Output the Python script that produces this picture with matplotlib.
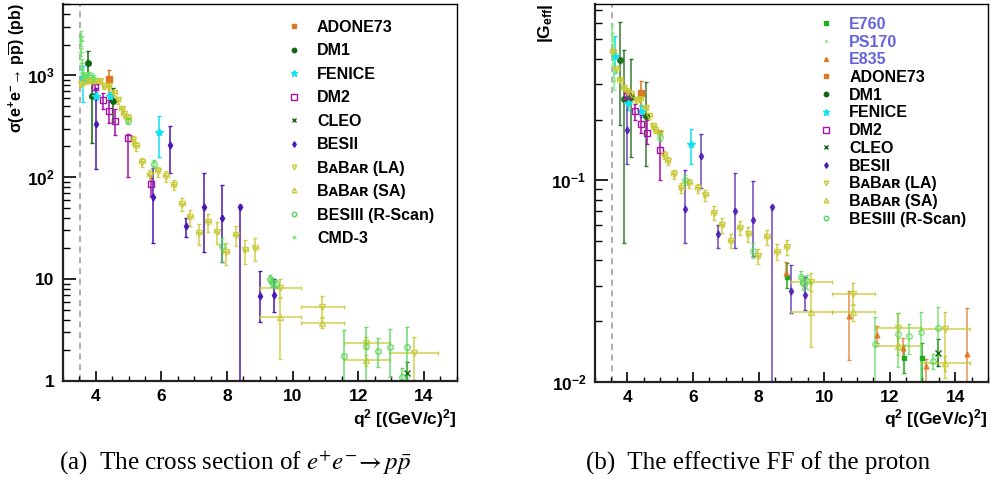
import numpy as np
import matplotlib
matplotlib.use("Agg")
import matplotlib.pyplot as plt
from matplotlib.lines import Line2D
from matplotlib.ticker import MultipleLocator, LogLocator, NullFormatter, FixedLocator, FixedFormatter

plt.rcParams['font.family'] = ['Liberation Sans', 'DejaVu Sans']
plt.rcParams['font.weight'] = 'normal'
plt.rcParams['mathtext.fontset'] = 'custom'
plt.rcParams['mathtext.rm'] = 'Liberation Sans:bold'
plt.rcParams['mathtext.bf'] = 'Liberation Sans:bold'
plt.rcParams['mathtext.it'] = 'Liberation Sans:italic:bold'
plt.rcParams['mathtext.sf'] = 'Liberation Sans:bold'

# ---------------- left panel: cross section (pb) ----------------
adone_q2_L = [4.40]
adone_sig = [910]
adone_lo_L = [250]
adone_hi_L = [220]

dm1_q2_L = [3.77, 3.87, 4.53]
dm1_sig = [1330, 625, 557]
dm1_lo_L = [330, 407, 210]
dm1_hi_L = [400, 225, 200]

fenice_q2_L = [3.61, 4.00, 4.43, 5.94]
fenice_sig = [940, 625, 620, 279]
fenice_lo_L = [400, 60, 70, 120]
fenice_hi_L = [290, 60, 70, 115]

dm2_q2_L = [3.99, 4.22, 4.40, 4.58, 4.99, 5.68]
dm2_sig = [773, 566, 445, 355, 244, 86.5]
dm2_lo_L = [50, 104, 103, 93, 143, 21.5]
dm2_hi_L = [50, 109, 125, 107, 20, 15.5]

cleo_q2_L = [13.48]
cleo_sig = [1.19]
cleo_lo_L = [0.3]
cleo_hi_L = [0.35]

besii_q2 = [4.00, 5.75, 6.25, 6.76, 7.29, 7.84, 8.41, 9.00, 9.42]
besii_sig = [329, 64, 205, 32.9, 50.6, 39.8, 51, 6.9, 6.95]
besii_lo_L = [209, 41.3, 95, 6.9, 32, 25.2, 50.5, 3.07, 2.25]
besii_hi_L = [427, 60, 110, 7.1, 60.4, 44.7, 2, 5.0, 3.11]

babar_q2 = [3.56, 3.66, 3.77, 3.88, 3.99, 4.12, 4.26, 4.39, 4.56, 4.67, 4.79, 4.85,
            4.98, 5.12, 5.23, 5.41, 5.64, 5.89, 6.14, 6.38, 6.63, 6.87, 7.15, 7.42,
            7.69, 7.97, 8.26, 8.56, 8.86]
babar_sig = [827, 877, 880, 870, 880, 877, 783, 790, 675, 566, 462, 413,
             383, 234, 201, 140, 106, 114, 102, 84, 54.6, 40.2, 28.1, 36.3,
             29.2, 18.3, 27, 19.1, 20.2]
babar_sig_err = [60, 50, 50, 50, 50, 50, 50, 50, 45, 40, 35, 35,
                 30, 22, 20, 15, 12, 13, 12, 10, 8.5, 7, 6.5, 7.5,
                 7, 4.5, 6, 5, 5]
babar_q2_err = [0.08] * 29

bin_q2 = [9.61, 10.89, 12.25, 13.69]
bin_lo_edge = [0.61, 0.65, 0.69, 0.73]
bin_hi_edge = [0.63, 0.67, 0.71, 0.75]
babar_la_bin_sig = [8.14, 5.38, 2.38, 1.90]
babar_la_bin_lo = [1.5, 1.1, 0.3, 0.88]
babar_la_bin_hi = [1.9, 1.5, 0.3, 0.83]
babar_sa_bin_sig = [4.23, 3.74, 1.61]
babar_sa_bin_lo = [2.6, 0.4, 0.2]
babar_sa_bin_hi = [2.3, 0.4, 0.2]

besiii_q2 = [4.98, 5.76, 7.84, 9.30, 9.36, 9.49, 11.56, 12.25, 12.60, 12.96, 13.32, 13.48]
besiii_sig = [355, 135, 21.2, 10.0, 9.3, 8.94, 1.77, 2.21, 1.98, 2.17, 1.10, 2.17]
besiii_lo_L = [25, 12, 6.6, 0.9, 0.9, 0.8, 1.3, 1.2, 0.6, 1.07, 0.3, 1.2]
besiii_hi_L = [25, 12, 4.3, 0.9, 0.9, 0.8, 1.43, 1.16, 0.68, 1.07, 0.25, 1.2]

cmd3_q2 = [3.552, 3.556, 3.562, 3.570, 3.585, 3.610, 3.650, 3.720, 3.800, 3.880, 3.960]
cmd3_sig = [2450, 2150, 1700, 1320, 1050, 980, 950, 1000, 1000, 960, 930]
cmd3_err = [250, 200, 170, 130, 110, 90, 80, 80, 80, 80, 80]

# ---------------- right panel: |G_eff| ----------------
e760_q2 = [8.88, 12.43, 12.98]
e760_G = [0.0329, 0.0131, 0.0131]
e760_lo = [0.0036, 0.0021, 0.0035]
e760_hi = [0.0060, 0.0021, 0.0024]

ps170_q2 = [3.535, 3.545, 3.56, 3.575, 3.59]
ps170_G = [0.54, 0.47, 0.40, 0.35, 0.31]
ps170_err = [0.05, 0.04, 0.035, 0.03, 0.03]

e835_q2 = [8.84, 10.77, 11.61, 12.42, 13.10, 14.37]
e835_G = [0.0346, 0.0212, 0.0171, 0.0147, 0.0119, 0.0138]
e835_lo = [0.0013, 0.0084, 0.0016, 0.0016, 0.0030, 0.0045]
e835_hi = [0.0046, 0.0070, 0.0017, 0.0018, 0.0011, 0.0094]

adone_q2_R = [4.40]
adone_G = [0.272]
adone_lo_R = [0.039]
adone_hi_R = [0.040]

dm1_q2_R = [3.77, 3.90, 4.12, 4.56]
dm1_G = [0.395, 0.252, 0.26, 0.208]
dm1_lo_R = [0.208, 0.203, 0.13, 0.09]
dm1_hi_R = [0.215, 0.193, 0.14, 0.10]

fenice_q2_R = [3.61, 4.01, 4.40, 5.95]
fenice_G = [0.414, 0.243, 0.220, 0.151]
fenice_lo_R = [0.072, 0.02, 0.015, 0.030]
fenice_hi_R = [0.107, 0.02, 0.015, 0.029]

dm2_q2_R = [3.99, 4.22, 4.40, 4.60, 5.00]
dm2_G = [0.262, 0.220, 0.191, 0.171, 0.141]
dm2_lo_R = [0.015, 0.02, 0.02, 0.019, 0.041]
dm2_hi_R = [0.015, 0.02, 0.02, 0.029, 0.034]

cleo_q2_R = [13.48]
cleo_G = [0.0139]
cleo_lo_R = [0.002]
cleo_hi_R = [0.0024]

besii_G = [0.177, 0.072, 0.1315, 0.0543, 0.0701, 0.0632, 0.0735, 0.0281, 0.027]
besii_lo_R = [0.056, 0.023, 0.040, 0.0084, 0.024, 0.021, 0.0734, 0.0062, 0.0042]
besii_hi_R = [0.064, 0.041, 0.0375, 0.0056, 0.039, 0.036, 0.001, 0.010, 0.0061]

babar_G = [0.434, 0.358, 0.313, 0.288, 0.277, 0.269, 0.249, 0.252, 0.229, 0.208, 0.186, 0.177,
           0.172, 0.134, 0.125, 0.107, 0.0915, 0.097, 0.091, 0.084, 0.069, 0.060, 0.050, 0.058,
           0.054, 0.042, 0.052, 0.044, 0.0465]
babar_G_err = [0.015, 0.012, 0.010, 0.009, 0.008, 0.008, 0.008, 0.008, 0.007, 0.007, 0.006, 0.006,
               0.006, 0.006, 0.006, 0.005, 0.005, 0.005, 0.005, 0.005, 0.0055, 0.005, 0.004, 0.0045,
               0.0045, 0.0035, 0.0045, 0.004, 0.004]
babar_la_bin_G = [0.0311, 0.0272, 0.01845, 0.01824]
babar_la_bin_G_lo = [0.0030, 0.0030, 0.0030, 0.0078]
babar_la_bin_G_hi = [0.0035, 0.0037, 0.0035, 0.0039]
babar_sa_bin_G = [0.0223, 0.0221, 0.01507, 0.01236]
babar_sa_bin_G_lo = [0.0074, 0.0020, 0.0015, 0.0010]
babar_sa_bin_G_hi = [0.0086, 0.0020, 0.0015, 0.0010]

besiii_G = [0.164, 0.1006, 0.0447, 0.0329, 0.0309, 0.0315, 0.0154, 0.01726, 0.0168, 0.0177, 0.0126, 0.01845]
besiii_lo_R = [0.008, 0.006, 0.0036, 0.0025, 0.0025, 0.0025, 0.0075, 0.0054, 0.0030, 0.0080, 0.0011, 0.0052]
besiii_hi_R = [0.008, 0.006, 0.0040, 0.0025, 0.0025, 0.0025, 0.0056, 0.0046, 0.0025, 0.0044, 0.0011, 0.0050]

legend_L = ['ADONE73', 'DM1', 'FENICE', 'DM2', 'CLEO', 'BESII',
            'BᴀBᴀʀ (LA)', 'BᴀBᴀʀ (SA)', 'BESIII (R-Scan)', 'CMD-3']
legend_R = ['E760', 'PS170', 'E835', 'ADONE73', 'DM1', 'FENICE', 'DM2', 'CLEO', 'BESII',
            'BᴀBᴀʀ (LA)', 'BᴀBᴀʀ (SA)', 'BESIII (R-Scan)']

# styles
C_ORANGE = '#dd7722'
C_DKGREEN = '#116611'
C_CYAN = '#11e0ee'
C_MAGENTA = '#aa11aa'
C_INDIGO = '#4a18b4'
C_YELLOW = '#c8c832'
C_LTGREEN = '#55d855'
C_CMD = '#66e066'
C_E760 = '#22aa22'
C_PS170 = '#88ee88'

style = {
    'E760': dict(marker='s', color=C_E760, ms=3.5, mfc=C_E760),
    'PS170': dict(marker='.', color=C_PS170, ms=3, mfc=C_PS170),
    'E835': dict(marker='^', color=C_ORANGE, ms=3.5, mfc=C_ORANGE),
    'ADONE73': dict(marker='s', color=C_ORANGE, ms=4, mfc=C_ORANGE),
    'DM1': dict(marker='o', color=C_DKGREEN, ms=4, mfc=C_DKGREEN),
    'FENICE': dict(marker='*', color=C_CYAN, ms=6, mfc=C_CYAN),
    'DM2': dict(marker='s', color=C_MAGENTA, ms=5, mfc='none'),
    'CLEO': dict(marker='x', color=C_DKGREEN, ms=4, mfc=C_DKGREEN),
    'BESII': dict(marker='d', color=C_INDIGO, ms=3.5, mfc=C_INDIGO),
    'LA': dict(marker='v', color=C_YELLOW, ms=4, mfc='none'),
    'SA': dict(marker='^', color=C_YELLOW, ms=4, mfc='none'),
    'BESIII': dict(marker='o', color=C_LTGREEN, ms=4, mfc='none'),
    'CMD3': dict(marker='+', color=C_CMD, ms=4, mfc=C_CMD),
}
legend_key_L = ['ADONE73', 'DM1', 'FENICE', 'DM2', 'CLEO', 'BESII', 'LA', 'SA', 'BESIII', 'CMD3']
legend_key_R = ['E760', 'PS170', 'E835', 'ADONE73', 'DM1', 'FENICE', 'DM2', 'CLEO', 'BESII', 'LA', 'SA', 'BESIII']


def eb(ax, key, x, y, lo, hi, xlo=None, xhi=None, alpha=1.0):
    st = style[key]
    xerr = None if xlo is None else [xlo, xhi]
    ax.errorbar(x, y, yerr=[lo, hi], xerr=xerr, fmt=st['marker'], color=st['color'],
                ms=st['ms'], mfc=st['mfc'], mec=st['color'], mew=1.0,
                elinewidth=1.1, capsize=1.6, capthick=1.0, alpha=alpha, lw=0)


fig = plt.figure(figsize=(9.93, 4.84), dpi=100)
axL = fig.add_axes([0.0634, 0.2128, 0.3965, 0.779])
axR = fig.add_axes([0.5989, 0.2114, 0.3961, 0.7804])

# left panel data
eb(axL, 'ADONE73', adone_q2_L, adone_sig, adone_lo_L, adone_hi_L)
eb(axL, 'DM1', dm1_q2_L, dm1_sig, dm1_lo_L, dm1_hi_L)
eb(axL, 'FENICE', fenice_q2_L, fenice_sig, fenice_lo_L, fenice_hi_L)
eb(axL, 'DM2', dm2_q2_L, dm2_sig, dm2_lo_L, dm2_hi_L)
eb(axL, 'CLEO', cleo_q2_L, cleo_sig, cleo_lo_L, cleo_hi_L)
eb(axL, 'BESII', besii_q2, besii_sig, besii_lo_L, besii_hi_L)
eb(axL, 'LA', babar_q2, babar_sig, babar_sig_err, babar_sig_err, babar_q2_err, babar_q2_err, alpha=0.85)
eb(axL, 'LA', bin_q2, babar_la_bin_sig, babar_la_bin_lo, babar_la_bin_hi, bin_lo_edge, bin_hi_edge, alpha=0.85)
eb(axL, 'SA', bin_q2[:3], babar_sa_bin_sig, babar_sa_bin_lo, babar_sa_bin_hi, bin_lo_edge[:3], bin_hi_edge[:3], alpha=0.85)
eb(axL, 'BESIII', besiii_q2, besiii_sig, besiii_lo_L, besiii_hi_L, alpha=0.85)
eb(axL, 'CMD3', cmd3_q2, cmd3_sig, cmd3_err, cmd3_err, alpha=0.8)

# right panel data
eb(axR, 'E760', e760_q2, e760_G, e760_lo, e760_hi)
eb(axR, 'PS170', ps170_q2, ps170_G, ps170_err, ps170_err)
eb(axR, 'E835', e835_q2, e835_G, e835_lo, e835_hi, alpha=0.8)
eb(axR, 'ADONE73', adone_q2_R, adone_G, adone_lo_R, adone_hi_R)
eb(axR, 'DM1', dm1_q2_R, dm1_G, dm1_lo_R, dm1_hi_R, alpha=0.85)
eb(axR, 'FENICE', fenice_q2_R, fenice_G, fenice_lo_R, fenice_hi_R)
eb(axR, 'DM2', dm2_q2_R, dm2_G, dm2_lo_R, dm2_hi_R)
eb(axR, 'CLEO', cleo_q2_R, cleo_G, cleo_lo_R, cleo_hi_R)
eb(axR, 'BESII', besii_q2, besii_G, besii_lo_R, besii_hi_R, alpha=0.8)
eb(axR, 'LA', babar_q2, babar_G, babar_G_err, babar_G_err, babar_q2_err, babar_q2_err, alpha=0.85)
eb(axR, 'LA', bin_q2, babar_la_bin_G, babar_la_bin_G_lo, babar_la_bin_G_hi, bin_lo_edge, bin_hi_edge, alpha=0.85)
eb(axR, 'SA', bin_q2, babar_sa_bin_G, babar_sa_bin_G_lo, babar_sa_bin_G_hi, bin_lo_edge, bin_hi_edge, alpha=0.85)
eb(axR, 'BESIII', besiii_q2, besiii_G, besiii_lo_R, besiii_hi_R, alpha=0.75)

for ax in (axL, axR):
    ax.set_yscale('log')
    ax.set_xlim(3, 15)
    ax.axvline(3.52, color='#999999', ls=(0, (4, 3)), lw=1.1, zorder=0)
    ax.xaxis.set_major_locator(FixedLocator([4, 6, 8, 10, 12, 14]))
    ax.xaxis.set_minor_locator(MultipleLocator(0.5))
    ax.yaxis.set_minor_locator(LogLocator(base=10, subs=np.arange(2, 10)))
    ax.yaxis.set_minor_formatter(NullFormatter())
    ax.tick_params(axis='x', which='major', direction='in', length=7.5, width=1.2,
                   labelsize=12.5, pad=6, top=False)
    ax.tick_params(axis='x', which='minor', direction='in', length=3.8, width=1.0, top=False)
    ax.tick_params(axis='y', which='major', direction='in', length=9.5, width=1.2,
                   labelsize=12.5, pad=6, right=False)
    ax.tick_params(axis='y', which='minor', direction='in', length=5, width=1.0, right=False)
    for s in ('left', 'bottom'):
        ax.spines[s].set_linewidth(1.6)
        ax.spines[s].set_color('#222222')
    for s in ('top', 'right'):
        ax.spines[s].set_linewidth(1.0)
    ax.set_xlabel('q$^{2}$ [(GeV/c)$^{2}$]', fontsize=12.5, fontweight='bold')
    ax.xaxis.set_label_coords(1.0, -0.068)
    ax.xaxis.label.set_ha('right')

axL.set_ylim(1, 5000)
axL.yaxis.set_major_locator(FixedLocator([1, 10, 100, 1000]))
axL.yaxis.set_major_formatter(FixedFormatter(['1', '10', '$10^{2}$', '$10^{3}$']))
axR.set_ylim(0.01, 0.75)
axR.yaxis.set_major_locator(FixedLocator([0.01, 0.1]))
axR.yaxis.set_major_formatter(FixedFormatter(['$10^{-2}$', '$10^{-1}$']))
for ax in (axL, axR):
    for lbl in ax.get_xticklabels() + ax.get_yticklabels():
        lbl.set_fontweight('bold')

axL.text(-0.117, 1.0, r'σ(e$^{+}$e$^{-}$→ p$\overline{\mathrm{p}}$) (pb)', transform=axL.transAxes,
         rotation=90, ha='center', va='top', fontsize=11.5, fontweight='bold')
axR.text(-0.125, 1.0, r'|G$_{\mathrm{eff}}$|', transform=axR.transAxes,
         rotation=90, ha='center', va='top', fontsize=12.5, fontweight='bold')


def make_legend(ax, keys, labels, anchor, spacing):
    handles = []
    for k in keys:
        st = style[k]
        handles.append(Line2D([], [], ls='none', marker=st['marker'], color=st['color'],
                              ms=st['ms'] * 0.8, mfc=st['mfc'], mec=st['color']))
    leg = ax.legend(handles, labels, loc='upper left', bbox_to_anchor=anchor, frameon=False,
                    fontsize=11.5, handlelength=1.0, handletextpad=0.95, borderpad=0,
                    borderaxespad=0, labelspacing=spacing, numpoints=1)
    for t in leg.get_texts():
        t.set_fontweight('bold')
    return leg


legL = make_legend(axL, legend_key_L, legend_L, (0.566, 0.958), 0.53)
legR = make_legend(axR, legend_key_R, legend_R, (0.568, 0.966), 0.17)
for t in legR.get_texts()[:3]:
    t.set_color('#6464dc')

fig.text(0.2367, 0.043, r'(a)  The cross section of $e^{+}e^{-}\!\rightarrow p\bar{p}$', ha='center',
         va='center', fontsize=18, fontfamily='Liberation Serif', fontweight='normal',
         math_fontfamily='stix')
fig.text(0.763, 0.043, '(b)  The effective FF of the proton', ha='center',
         va='center', fontsize=18, fontfamily='Liberation Serif', fontweight='normal')

fig.savefig('out.png', dpi=100)
